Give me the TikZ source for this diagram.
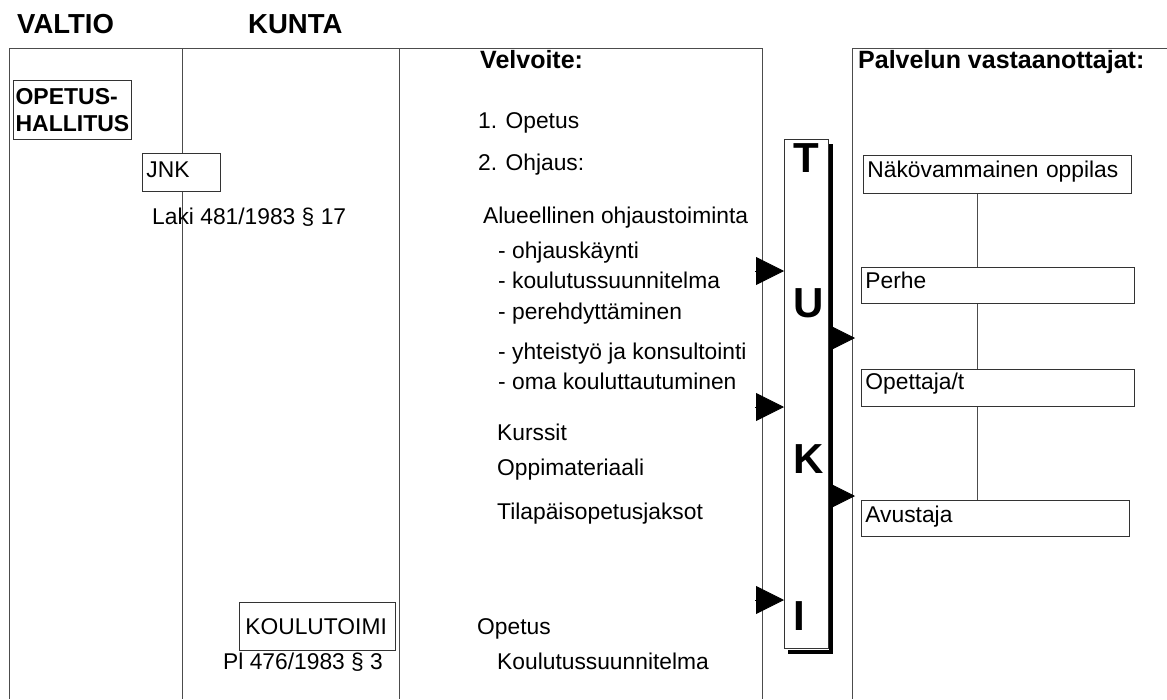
\documentclass[tikz,border=0pt]{standalone}
\usepackage{fontspec}
\setmainfont{Liberation Sans}
\usetikzlibrary{arrows.meta}

\begin{document}
\begin{tikzpicture}[x=1pt,y=-1pt,
    every node/.style={font=\fontsize{22.8}{27}\selectfont},
    frame/.style={black!70, line width=0.8pt},
    box/.style={draw=black!80, line width=0.8pt, fill=white, anchor=north west, inner xsep=4pt, inner ysep=0pt, align=left},
    txt/.style={anchor=base west, inner sep=0pt},
    head/.style={txt, font=\fontsize{25}{30}\selectfont\bfseries},
    bigletter/.style={txt, font=\fontsize{42}{48}\selectfont\bfseries},
    intri/.style={-{Triangle[length=28pt,width=28pt]}, line width=0.8pt},
    outtri/.style={-{Triangle[length=25pt,width=25pt]}, line width=0.8pt}]
    \useasboundingbox (0,0) rectangle (1167,699);

    % columns
    \draw[frame] (9,699) -- (9,48) -- (762,48) -- (762,699);
    \draw[frame] (182,48) -- (182,699);
    \draw[frame] (399,48) -- (399,699);
    \draw[frame] (852,699) -- (852,48) -- (1167,48);

    \node[head, font=\fontsize{27.5}{32}\selectfont\bfseries] (valtio) at (17,33) {VALTIO};
    \node[head, font=\fontsize{27.5}{32}\selectfont\bfseries] (kunta) at (248,33) {KUNTA};
    \node[head] (velvoite) at (480,68) {Velvoite:};
    \node[head] (palvelu) at (858,68) {Palvelun vastaanottajat:};

    % state and municipality
    \node[box, font=\fontsize{23}{27}\selectfont\bfseries, inner xsep=2pt, inner ysep=7pt, minimum width=118pt, minimum height=59pt] (ophall) at (13,80) {OPETUS-\\HALLITUS};
    \node[box, text width=70pt, text height=24pt, text depth=14pt] (jnk) at (142,153) {JNK};
    \node[txt] (laki) at (152,224) {Laki 481/1983 § 17};
    \node[box, inner xsep=6pt, text width=144pt, text height=32pt, text depth=16pt] (koulu) at (239,602) {KOULUTOIMI};
    \node[txt] (pl) at (223,669) {Pl 476/1983 § 3};

    % duties
    \node[txt] (opetus1) at (478,128) {1. Opetus};
    \node[txt] (ohjaus2) at (478,170) {2. Ohjaus:};
    \node[txt] (alue) at (483,223) {Alueellinen ohjaustoiminta};
    \node[txt] (ohj1) at (498,258) {- ohjauskäynti};
    \node[txt] (ohj2) at (498,288) {- koulutussuunnitelma};
    \node[txt] (ohj3) at (498,319) {- perehdyttäminen};
    \node[txt] (ohj4) at (498,359) {- yhteistyö ja konsultointi};
    \node[txt] (ohj5) at (498,389) {- oma kouluttautuminen};
    \node[txt] (kurssit) at (497,440) {Kurssit};
    \node[txt] (oppimat) at (497,475) {Oppimateriaali};
    \node[txt] (tilap) at (497,519) {Tilapäisopetusjaksot};
    \node[txt] (opetus) at (477,634) {Opetus};
    \node[txt] (koulsuun) at (497,669) {Koulutussuunnitelma};

    % TUKI
    \node[draw=black!80, line width=0.8pt, fill=white, anchor=north west, minimum width=44pt, minimum height=509pt, inner sep=0pt] (tuki) at (784,139) {};
    \draw[line width=4pt] ([xshift=4pt,yshift=-3pt]tuki.south west) -| ([xshift=2pt,yshift=-5pt]tuki.north east);
    \node[bigletter] (lt) at (793,172) {T};
    \node[bigletter] (lu) at (793,317) {U};
    \node[bigletter] (lk) at (793,473) {K};
    \node[bigletter] (li) at (793,630) {I};

    \coordinate (a1) at (755,271);
    \coordinate (a2) at (755,407);
    \coordinate (a3) at (755,600);
    \draw[intri] (a1) -- (a1 -| tuki.west);
    \draw[intri] (a2) -- (a2 -| tuki.west);
    \draw[intri] (a3) -- (a3 -| tuki.west);
    \coordinate (b1) at (855,338);
    \coordinate (b2) at (855,496);
    \draw[outtri] (b1 -| tuki.east) -- (b1);
    \draw[outtri] (b2 -| tuki.east) -- (b2);

    % recipients
    \node[box, text width=260pt, text height=22pt, text depth=16pt] (nako) at (863,155) {Näkövammainen oppilas};
    \node[box, text width=265pt, text height=21pt, text depth=15pt] (perhe) at (861,267) {Perhe};
    \node[box, text width=265pt, text height=20pt, text depth=17pt] (opett) at (861,369) {Opettaja/t};
    \node[box, text width=260pt, text height=22pt, text depth=14pt] (avust) at (861,500) {Avustaja};

    \coordinate (spine) at (977,0);
    \draw[frame] (nako.south -| spine) -- (perhe.north -| spine);
    \draw[frame] (perhe.south -| spine) -- (opett.north -| spine);
    \draw[frame] (opett.south -| spine) -- (avust.north -| spine);
\end{tikzpicture}
\end{document}
